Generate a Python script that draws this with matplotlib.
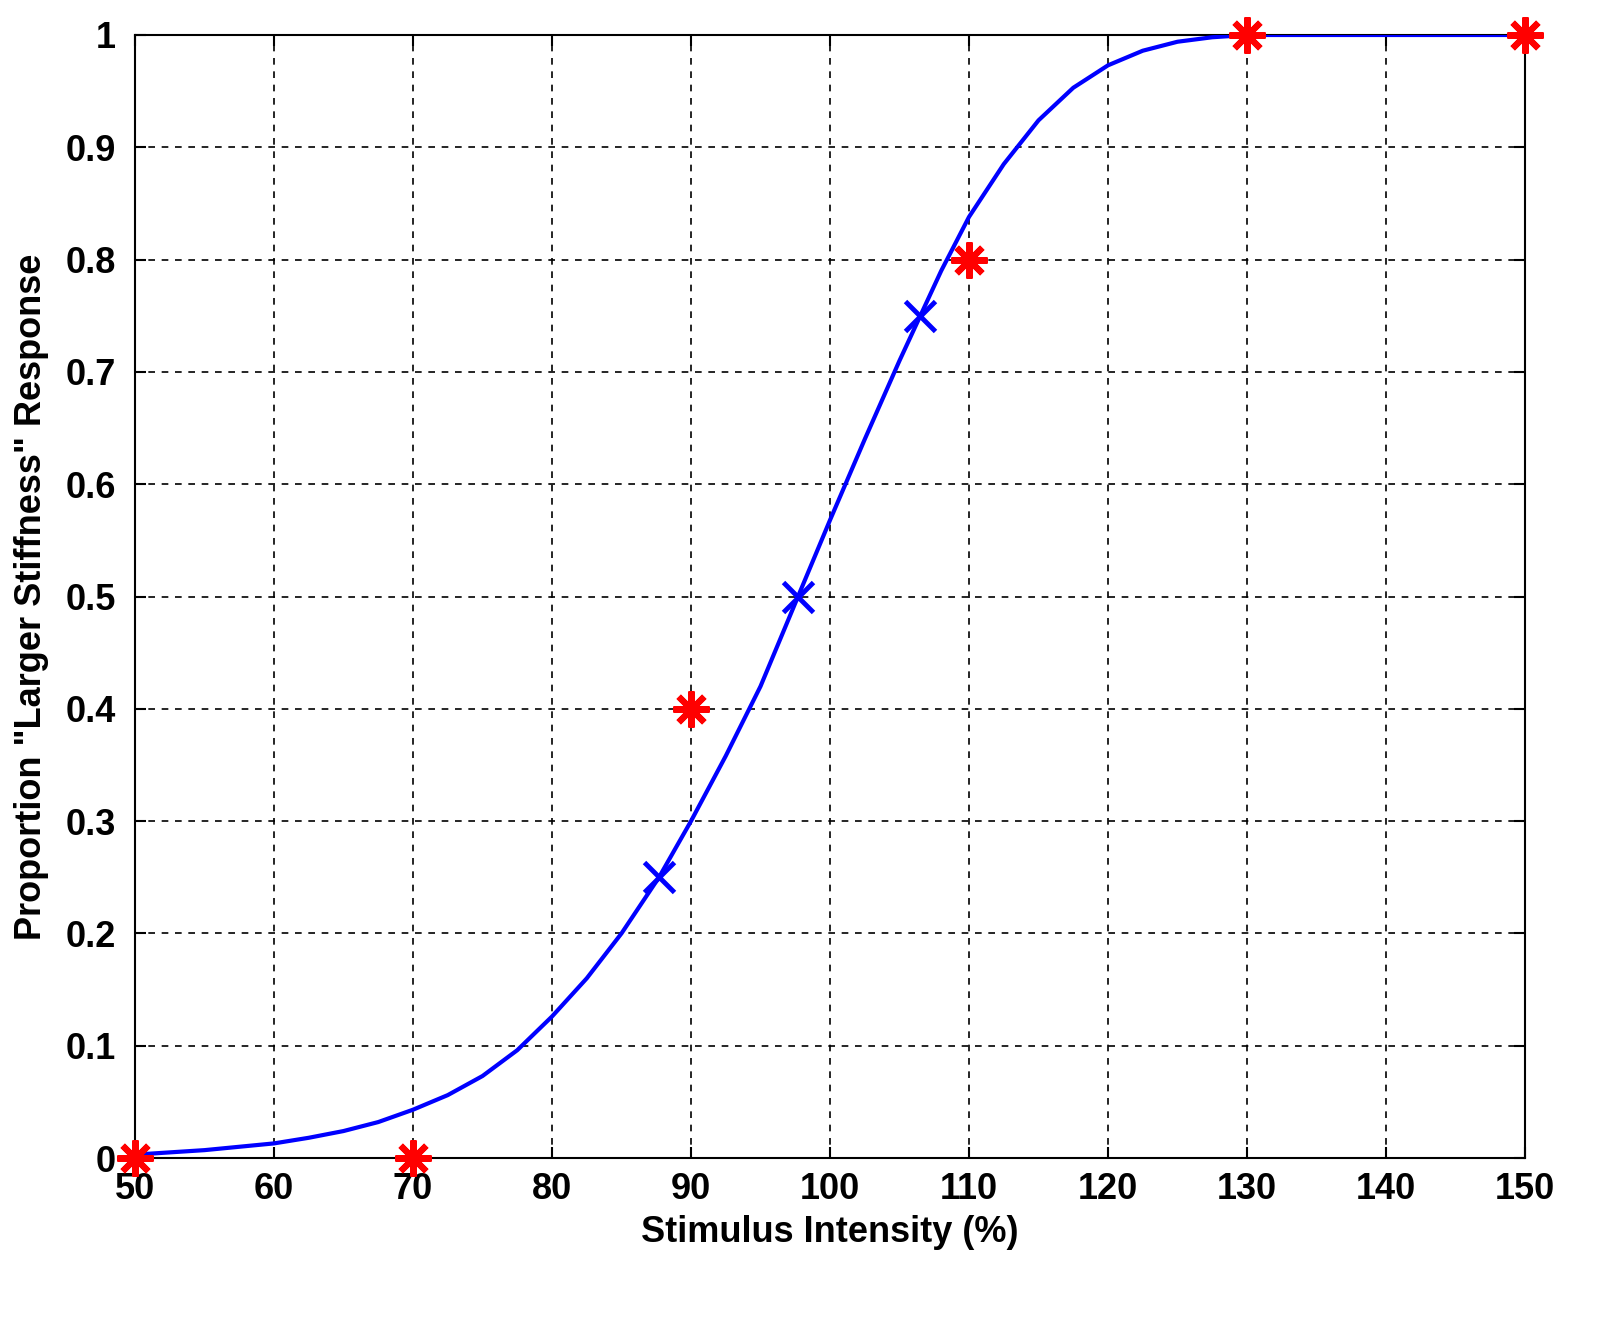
import matplotlib
matplotlib.use("Agg")
import matplotlib.pyplot as plt

# fitted psychometric curve
curve_x = [50, 52.5, 55, 57.5, 60, 62.5, 65, 67.5, 70, 72.5, 75, 77.5, 80, 82.5, 85, 87.7, 90, 92.5,
           95, 97.7, 100, 102.5, 105, 106.5, 108, 110, 112.5, 115, 117.5, 120, 122.5, 125, 127.5, 130, 140, 150]
curve_y = [0.003, 0.005, 0.007, 0.010, 0.013, 0.018, 0.024, 0.032, 0.043, 0.056, 0.073, 0.096, 0.126, 0.160,
           0.200, 0.250, 0.300, 0.358, 0.420, 0.500, 0.568, 0.640, 0.710, 0.750, 0.790, 0.838, 0.885, 0.924,
           0.953, 0.973, 0.986, 0.994, 0.998, 1.0, 1.0, 1.0]

# threshold points (25 / 50 / 75 %)
thr_x = [87.7, 97.7, 106.5]
thr_y = [0.25, 0.50, 0.75]

# observed proportions
obs_x = [50, 70, 90, 110, 130, 150]
obs_y = [0.0, 0.0, 0.4, 0.8, 1.0, 1.0]

plt.rcParams["font.family"] = ["Liberation Sans", "DejaVu Sans"]
plt.rcParams["font.weight"] = "bold"

fig = plt.figure(figsize=(16.21, 13.17), dpi=100)
ax = fig.add_axes([135 / 1621, 1 - 1158 / 1317, 1390 / 1621, 1123 / 1317])

ax.plot(curve_x, curve_y, color="#0000ff", lw=3, zorder=3)
ax.plot(thr_x, thr_y, ls="none", marker="x", ms=22, mew=3.5, color="#0000ff", zorder=4)
ax.plot(obs_x, obs_y, ls="none", marker=(8, 2, 0), ms=26, mew=4.5, color="#ff0000",
        clip_on=False, zorder=5)

ax.set_xlim(50, 150)
ax.set_ylim(0, 1)
ax.set_xticks(range(50, 151, 10))
ax.set_yticks([i / 10 for i in range(11)])
ax.set_yticklabels(["0"] + [f"{i / 10:g}" for i in range(1, 10)] + ["1"])
ax.grid(True, ls=(0, (4, 4)), color="black", lw=1.2)
ax.tick_params(labelsize=26, direction="in", length=8, width=1.5, top=True, right=True)
ax.tick_params(axis="y", pad=14)
ax.tick_params(axis="x", pad=10)
for s in ax.spines.values():
    s.set_linewidth(1.5)
ax.set_xlabel("Stimulus Intensity (%)", fontsize=26, fontweight="bold", labelpad=6)
ax.set_ylabel('Proportion "Larger Stiffness" Response', fontsize=26, fontweight="bold", labelpad=12)

fig.savefig("out.png", dpi=100)
